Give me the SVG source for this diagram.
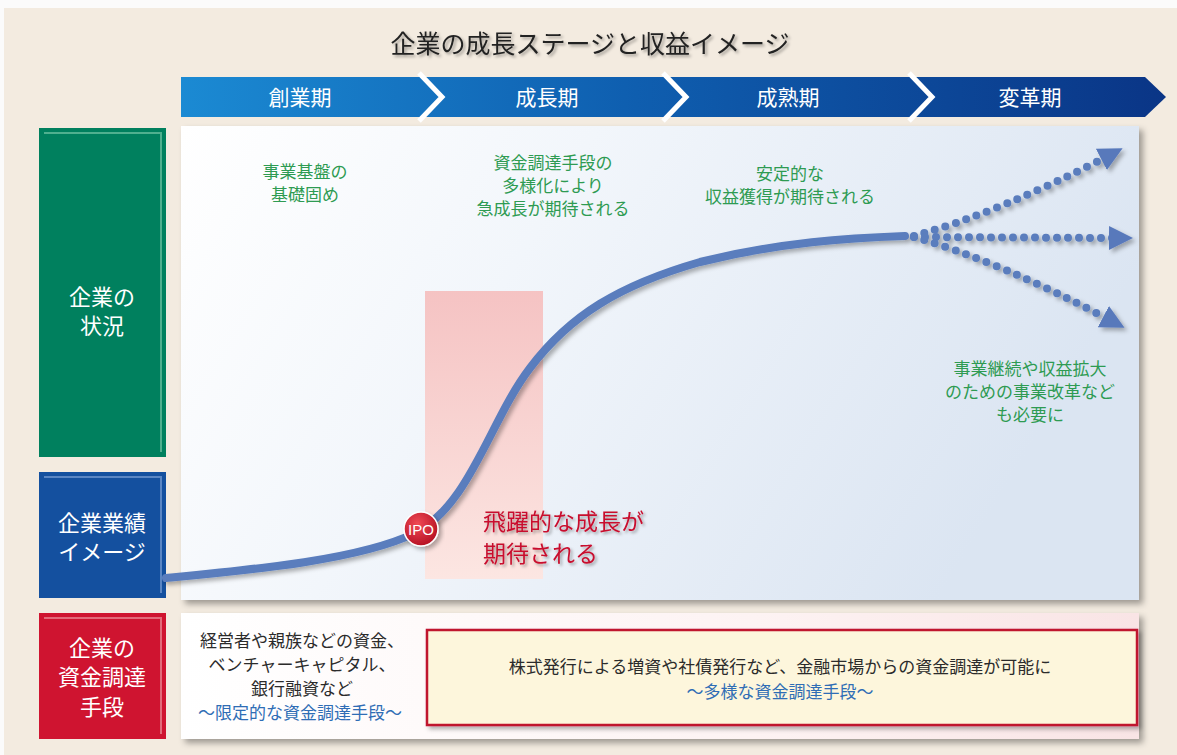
<svg xmlns="http://www.w3.org/2000/svg" width="1177" height="755" viewBox="0 0 1177 755">
<style>
text{font-family:"Noto Sans CJK JP","Noto Sans",sans-serif;text-anchor:middle}
.g{fill:#2e9b52;font-size:17px}
.k{fill:#2b2b2b;font-size:17px}
.b{fill:#2f6db5;font-size:17px}
.lab{font-size:22px;fill:#ffffff}
.ph{font-size:21px;fill:#ffffff}
</style>
<defs>
<linearGradient id="bar" x1="0" y1="0" x2="1" y2="0"><stop offset="0" stop-color="#1b8ad3"/><stop offset="0.45" stop-color="#0f5fb0"/><stop offset="1" stop-color="#0a3586"/></linearGradient>
<linearGradient id="panel" x1="0" y1="0" x2="1" y2="0.3"><stop offset="0" stop-color="#ffffff"/><stop offset="0.4" stop-color="#f2f6fb"/><stop offset="1" stop-color="#dbe5f2"/></linearGradient>
<linearGradient id="panel2" x1="0" y1="0" x2="1" y2="0"><stop offset="0" stop-color="#ffffff"/><stop offset="0.6" stop-color="#fdf3f3"/><stop offset="1" stop-color="#f9e4e5"/></linearGradient>
<linearGradient id="pink" x1="0" y1="0" x2="0" y2="1"><stop offset="0" stop-color="#f5c3c3"/><stop offset="1" stop-color="#fce6e2"/></linearGradient>
<radialGradient id="ipo" cx="0.4" cy="0.35" r="0.7"><stop offset="0" stop-color="#f04a55"/><stop offset="1" stop-color="#b30f22"/></radialGradient>
<filter id="sh" x="-10%" y="-10%" width="130%" height="130%"><feDropShadow dx="4" dy="4" stdDeviation="3" flood-color="#000" flood-opacity="0.35"/></filter>
<filter id="tsh" x="-10%" y="-20%" width="130%" height="160%"><feDropShadow dx="2" dy="2" stdDeviation="1.5" flood-color="#000" flood-opacity="0.35"/></filter>
<filter id="lsh" x="-10%" y="-20%" width="130%" height="160%"><feDropShadow dx="3" dy="3" stdDeviation="2" flood-color="#000" flood-opacity="0.3"/></filter>
<marker id="ah" viewBox="0 0 24 24" refX="3" refY="12" markerWidth="24" markerHeight="24" markerUnits="userSpaceOnUse" orient="auto"><path d="M0,0 L24,12 L0,24 z" fill="#5879bb"/></marker>
</defs>

<rect x="0" y="0" width="1177" height="755" fill="#fbfbfb"/>
<rect x="4" y="8" width="1173" height="747" fill="#f3ebe0"/>

<text x="590" y="53" font-size="25" fill="#222" filter="url(#tsh)">企業の成長ステージと収益イメージ</text>

<g id="phases">
<path d="M181,77 L1145,77 L1166,97 L1145,117 L181,117 Z" fill="url(#bar)"/>
<g fill="none" stroke="#ffffff" stroke-width="5">
<polyline points="419,73 442,97 419,121"/>
<polyline points="663,73 686,97 663,121"/>
<polyline points="909,73 932,97 909,121"/>
</g>
<text class="ph" x="300" y="105">創業期</text>
<text class="ph" x="547" y="105">成長期</text>
<text class="ph" x="788" y="105">成熟期</text>
<text class="ph" x="1030" y="105">変革期</text>
</g>

<g id="chart-panel">
<rect x="181" y="126" width="958" height="474" fill="url(#panel)" filter="url(#sh)"/>
<rect x="425" y="291" width="118" height="288" fill="url(#pink)"/>
</g>

<g id="label-status">
<rect x="39" y="128" width="127" height="329" fill="#00805e"/>
<path d="M44,133 L161,133 L161,452" fill="none" stroke="#4fb08f" stroke-width="2"/>
<text class="lab" x="102" y="305">企業の</text>
<text class="lab" x="102" y="334">状況</text>
</g>
<g id="label-perf">
<rect x="39" y="472" width="127" height="126" fill="#14509f"/>
<path d="M44,477 L161,477 L161,593" fill="none" stroke="#5a86c4" stroke-width="2"/>
<text class="lab" x="102" y="531">企業業績</text>
<text class="lab" x="102" y="560">イメージ</text>
</g>
<g id="label-fund">
<rect x="39" y="613" width="127" height="126" fill="#cf1430"/>
<path d="M44,618 L161,618 L161,734" fill="none" stroke="#e36a7a" stroke-width="2"/>
<text class="lab" x="102" y="656">企業の</text>
<text class="lab" x="102" y="685">資金調達</text>
<text class="lab" x="102" y="715">手段</text>
</g>

<g id="stage-notes">
<text class="g" x="305" y="178">事業基盤の</text>
<text class="g" x="305" y="201">基礎固め</text>
<text class="g" x="553" y="169">資金調達手段の</text>
<text class="g" x="553" y="192">多様化により</text>
<text class="g" x="553" y="215">急成長が期待される</text>
<text class="g" x="790" y="180">安定的な</text>
<text class="g" x="790" y="203">収益獲得が期待される</text>
<text class="g" x="1030" y="375">事業継続や収益拡大</text>
<text class="g" x="1030" y="398">のための事業改革など</text>
<text class="g" x="1030" y="421">も必要に</text>
</g>

<g id="connectors" filter="url(#lsh)">
<path d="M166,578 C250,570 360,560 415,533 C470,505 490,420 530,368 C570,315 620,285 700,262 C780,242 850,238 905,236" fill="none" stroke="#5a7dbd" stroke-width="8" stroke-linecap="round"/>
<g fill="none" stroke="#5a7dbd" stroke-width="8" stroke-linecap="round" stroke-dasharray="0 11">
<path d="M914,236 Q1000,212 1104,158" marker-end="url(#ah)"/>
<path d="M914,237 L1112,238" marker-end="url(#ah)"/>
<path d="M914,237 Q1000,262 1106,318" marker-end="url(#ah)"/>
</g>
</g>

<g id="ipo">
<circle cx="421" cy="529" r="17" fill="url(#ipo)" stroke="#ffffff" stroke-width="1.5" filter="url(#lsh)"/>
<text x="421" y="535" font-size="15" fill="#ffffff" style="font-family:'Liberation Sans',sans-serif">IPO</text>
</g>
<g id="leap-note" filter="url(#tsh)">
<text x="483" y="530" font-size="23" fill="#c8102e" style="text-anchor:start">飛躍的な成長が</text>
<text x="483" y="562" font-size="23" fill="#c8102e" style="text-anchor:start">期待される</text>
</g>

<g id="funding-panel">
<rect x="181" y="613" width="958" height="126" fill="url(#panel2)" filter="url(#sh)"/>
<text class="k" x="302" y="647">経営者や親族などの資金、</text>
<text class="k" x="302" y="671">ベンチャーキャピタル、</text>
<text class="k" x="302" y="695">銀行融資など</text>
<text class="b" x="300" y="719">〜限定的な資金調達手段〜</text>
</g>
<g id="funding-market">
<rect x="427" y="630" width="710" height="95" fill="#fdf6dc" stroke="#c0162d" stroke-width="2.5" filter="url(#lsh)"/>
<text class="k" x="780" y="673">株式発行による増資や社債発行など、金融市場からの資金調達が可能に</text>
<text class="b" x="780" y="698">〜多様な資金調達手段〜</text>
</g>
</svg>
